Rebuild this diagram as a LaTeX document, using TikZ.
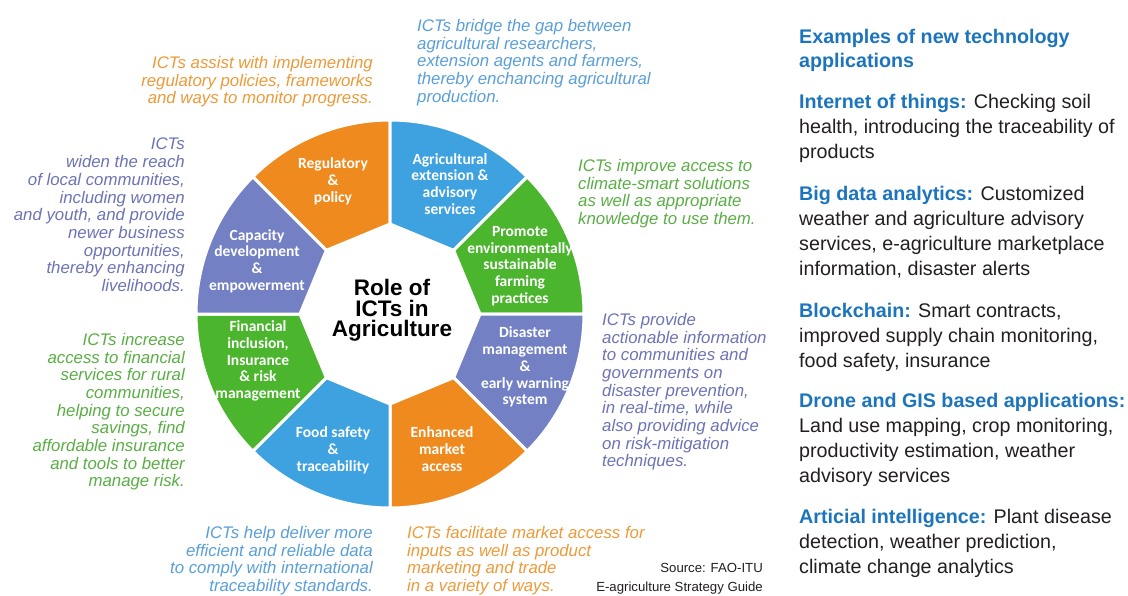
\documentclass[tikz,border=0pt]{standalone}
\usepackage{fontspec}
\setmainfont{Liberation Sans}
\newfontfamily\segfont{Carlito}
\definecolor{segorange}{HTML}{EE8A1E}
\definecolor{segblue}{HTML}{3FA2E0}
\definecolor{seggreen}{HTML}{4BB52E}
\definecolor{segpurple}{HTML}{7381C4}
\definecolor{txtorange}{HTML}{EC9A3A}
\definecolor{txtblue}{HTML}{5A9FD8}
\definecolor{txtgreen}{HTML}{5AAE45}
\definecolor{txtpurple}{HTML}{6D73B4}
\definecolor{headblue}{HTML}{1C75BC}
\definecolor{bodygray}{HTML}{231F20}
\def\cx{390}\def\cy{314}\def\Ro{194}\def\Ri{90}
\newcommand\wheelseg[3]{%
  \filldraw[fill=#3, draw=white, line width=3pt, line join=miter]
    ({\cx+\Ri*cos(#1)},{\cy-\Ri*sin(#1)})
    -- plot[domain=#1:#2, samples=40] ({\cx+\Ro*cos(\x)},{\cy-\Ro*sin(\x)})
    -- ({\cx+\Ri*cos(#2)},{\cy-\Ri*sin(#2)}) -- cycle;}
\tikzset{
  seglabel/.style={text=white, font=\segfont\bfseries\fontsize{15.5}{16.8}\selectfont, align=center, inner sep=0pt},
  note/.style={font=\fontsize{16.8}{17.7}\selectfont\itshape, inner sep=0pt},
  noteR/.style={note, align=right, anchor=north east},
  noteL/.style={note, align=left, anchor=north west},
  panel/.style={font=\fontsize{19.7}{25}\selectfont, text=bodygray, align=left, anchor=north west, inner sep=0pt},
}
\begin{document}
\begin{tikzpicture}[x=1pt,y=-1pt]
\useasboundingbox (0,0) rectangle (1128,595);
\fill[white] (0,0) rectangle (1128,595);

% wheel
\wheelseg{90}{135}{segorange}
\wheelseg{45}{90}{segblue}
\wheelseg{0}{45}{seggreen}
\wheelseg{-45}{0}{segpurple}
\wheelseg{-90}{-45}{segorange}
\wheelseg{-135}{-90}{segblue}
\wheelseg{180}{225}{seggreen}
\wheelseg{135}{180}{segpurple}

\node[seglabel] (reg) at (333,181) {Regulatory\\\&\\policy};
\node[seglabel] (ext) at (450,184) {Agricultural\\extension \&\\advisory\\services};
\node[seglabel] (env) at (520,266) {Promote\\environmentally\\sustainable\\farming\\practices};
\node[seglabel] (dis) at (525,367) {Disaster\\management\\\&\\early warning\\system};
\node[seglabel] (mkt) at (442,449) {Enhanced\\market\\access};
\node[seglabel] (food) at (333,450) {Food safety\\\&\\traceability};
\node[seglabel] (fin) at (258,361) {Financial\\inclusion,\\Insurance\\\&~risk\\management};
\node[seglabel] (cap) at (257,261) {Capacity\\development\\\&\\empowerment};

\node[font=\bfseries\fontsize{22.5}{20.5}\selectfont, align=center, anchor=north, inner sep=0pt] (title) at (392,279) {Role of\\ICTs in\\Agriculture};

% annotations
\node[noteR, text=txtorange] (n1) at (373,56) {ICTs assist with implementing\\regulatory policies, frameworks\\and ways to monitor progress.};
\node[noteR, text=txtpurple] (n2) at (185,138) {ICTs\\widen the reach\\of local communities,\\including women\\and youth, and provide\\newer business\\opportunities,\\thereby enhancing\\livelihoods.};
\node[noteL, text=txtblue] (n3) at (417,19) {ICTs bridge the gap between\\agricultural researchers,\\extension agents and farmers,\\thereby enchancing agricultural\\production.};
\node[noteL, text=txtgreen] (n4) at (578,159) {ICTs improve access to\\climate-smart solutions\\as well as appropriate\\knowledge to use them.};
\node[noteL, text=txtpurple] (n5) at (602,313) {ICTs provide\\actionable information\\to communities and\\governments on\\disaster prevention,\\in real-time, while\\also providing advice\\on risk-mitigation\\techniques.};
\node[noteR, text=txtgreen] (n6) at (185,333) {ICTs increase\\access to financial\\services for rural\\communities,\\helping to secure\\savings, find\\affordable insurance\\and tools to better\\manage risk.};
\node[noteR, text=txtblue] (n7) at (373,526) {ICTs help deliver more\\efficient and reliable data\\to comply with international\\traceability standards.};
\node[noteL, text=txtorange] (n8) at (407,526) {ICTs facilitate market access for\\inputs as well as product\\marketing and trade\\in a variety of ways.};

\node[font=\fontsize{13.2}{19}\selectfont, align=right, anchor=north east, inner sep=0pt, text=bodygray] (src) at (763,563.5) {Source: FAO-ITU\\E-agriculture Strategy Guide};

% right panel
\node[panel, text=headblue, font=\bfseries\fontsize{19.7}{24}\selectfont] (head) at (799,29) {Examples of new technology\\applications};
\node[panel] (iot) at (799,94) {\textcolor{headblue}{\bfseries Internet of things:} Checking soil\\health, introducing the traceability of\\products};
\node[panel] (big) at (799,186) {\textcolor{headblue}{\bfseries Big data analytics:} Customized\\weather and agriculture advisory\\services, e-agriculture marketplace\\information, disaster alerts};
\node[panel] (blk) at (799,303) {\textcolor{headblue}{\bfseries Blockchain:} Smart contracts,\\improved supply chain monitoring,\\food safety, insurance};
\node[panel] (drn) at (799,393) {\textcolor{headblue}{\bfseries Drone and GIS based applications:}\\Land use mapping, crop monitoring,\\productivity estimation, weather\\advisory services};
\node[panel] (ai) at (799,509) {\textcolor{headblue}{\bfseries Articial intelligence:} Plant disease\\detection, weather prediction,\\climate change analytics};
\end{tikzpicture}
\end{document}
